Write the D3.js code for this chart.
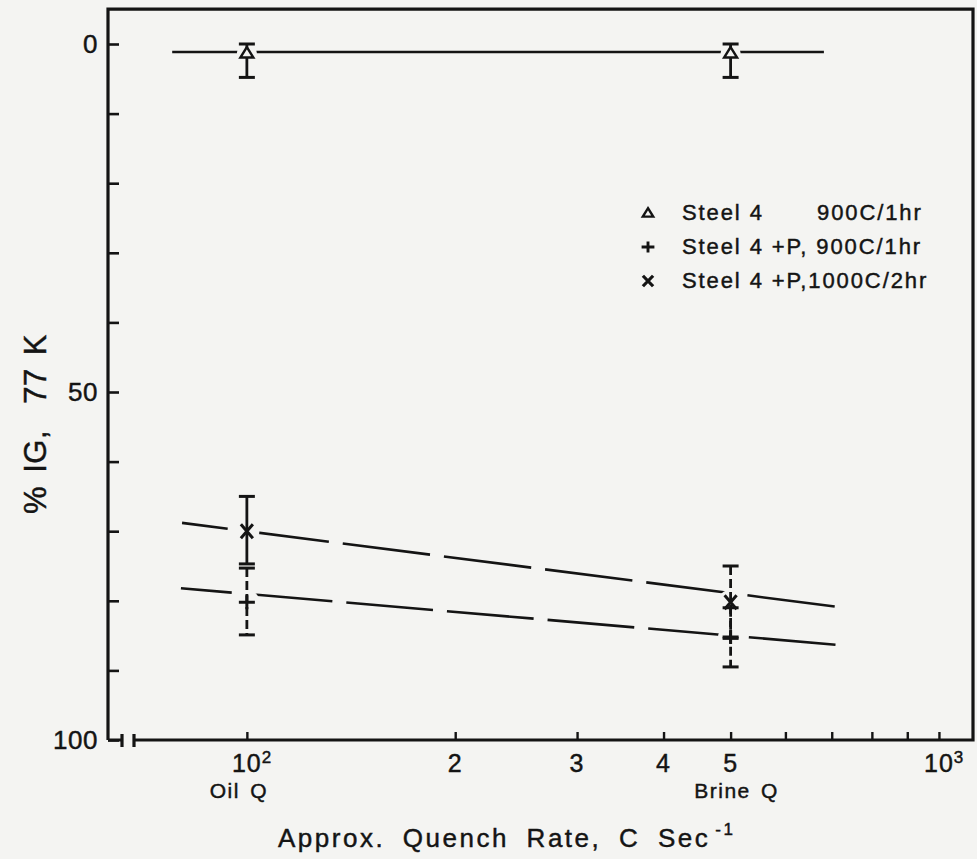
<!DOCTYPE html>
<html>
<head>
<meta charset="utf-8">
<script src="https://cdn.jsdelivr.net/npm/d3@7"></script>
<style>
  body { margin: 0; background: #f4f4f2; }
  svg  { display: block; font-family: "Liberation Sans", Arial, Helvetica, sans-serif; }
  svg text { stroke: #141414; stroke-width: 0.45px; }
</style>
</head>
<body>
<svg id="chart"></svg>
<script>
// ─── data ────────────────────────────────────────────────────────────────────
// quench rates (C/sec) of the two treatments
const rates       = [100, 500];
const rateNames   = ["Oil Q", "Brine Q"];

// % intergranular fracture at 77 K, and error-bar ends [upper, lower]
const steel4         = [1.3, 1.3];
const steel4Err      = [[0, 4.8], [0, 4.8]];
const steel4P900     = [80.2, 85.2];
const steel4P900Err  = [[75.3, 84.9], [81, 89.5]];
const steel4P1000    = [70.0, 80.2];
const steel4P1000Err = [[65, 74.7], [75, 85.4]];

// fitted trend lines, end points as [rate, %IG]
const steel4Trend = [[78, 1.15], [682, 1.15]];
const p900Trend   = [[80.3, 78.2], [727, 86.4]];
const p1000Trend  = [[80.6, 68.8], [717, 80.9]];

// axes
const yTicks      = [0, 10, 20, 30, 40, 50, 60, 70, 80, 90, 100];
const yLabels     = [0, 50, 100];
const xTicks      = [100, 200, 300, 400, 500, 600, 700, 800, 900, 1000];
const xLabelVals  = [100, 200, 300, 400, 500, 1000];
const xLabelText  = ["10", "2", "3", "4", "5", "10"];
const xLabelSup   = ["2", "", "", "", "", "3"];

const legendMain  = ["Steel 4", "Steel 4 +P, 900C/1hr", "Steel 4 +P,1000C/2hr"];
const legendExtra = ["900C/1hr", "", ""];

// ─── drawing ────────────────────────────────────────────────────────────────
const W = 977, H = 859;
const bg = "#f4f4f2", ink = "#141414";

const svg = d3.select("#chart").attr("width", W).attr("height", H);
svg.append("rect").attr("width", W).attr("height", H).attr("fill", bg);

const x = d3.scaleLog().domain([63, 1120]).range([108, 973]);
const y = d3.scaleLinear().domain([0, 100]).range([44, 740]);
const xLeft = x.range()[0], xRight = x.range()[1];
const yTop = y(-5), yBottom = y(100);

// frame, with the broken-axis mark next to the origin
svg.append("path").attr("fill", "none").attr("stroke", ink).attr("stroke-width", 3.2)
  .attr("d", `M${xLeft},${yBottom}V${yTop}H${xRight}V${yBottom}H134`
           + `M134,${yBottom - 6}V${yBottom + 7}M122,${yBottom - 6}V${yBottom + 7}M122,${yBottom}H${xLeft}`);

// y axis: inward ticks every 10, labels at 0 / 50 / 100
svg.append("g").attr("transform", `translate(${xLeft},0)`)
  .call(d3.axisLeft(y).tickValues(yTicks).tickSize(-11).tickPadding(10).tickFormat(d => yLabels.includes(d) ? d : ""))
  .call(g => g.select(".domain").remove())
  .call(g => g.selectAll("line").attr("stroke", ink).attr("stroke-width", 2.6))
  .call(g => g.selectAll("text").attr("fill", ink).style("letter-spacing", "0.5px"))
  .attr("font-size", 26).attr("font-family", null);

// x axis: log ticks pointing up
svg.append("g").attr("transform", `translate(0,${yBottom})`)
  .call(d3.axisBottom(x).tickValues(xTicks).tickSize(-8).tickFormat(""))
  .call(g => g.select(".domain").remove())
  .call(g => g.selectAll("line").attr("stroke", ink).attr("stroke-width", 2.4));

const xl = svg.append("g").attr("fill", ink).style("letter-spacing", "1px");
xLabelVals.forEach((v, i) => {
  const t = xl.append("text").attr("x", x(v)).attr("y", 772).attr("font-size", 25)
    .attr("text-anchor", "middle").text(xLabelText[i]);
  if (xLabelSup[i]) {
    xl.append("text").attr("x", x(v) + t.node().getComputedTextLength() / 2)
      .attr("y", 763).attr("font-size", 17).text(xLabelSup[i]);
  }
});
xl.selectAll("text.rate-name").data(rates).join("text").attr("class", "rate-name")
  .attr("x", (d, i) => x(d) - (i ? -6 : 8)).attr("y", 798).attr("font-size", 21)
  .attr("text-anchor", "middle").style("letter-spacing", "1.5px").style("word-spacing", "3px")
  .text((d, i) => rateNames[i]);

// axis titles
const xt = svg.append("text").attr("x", 278).attr("y", 847).attr("fill", ink).attr("font-size", 26)
  .style("letter-spacing", "2.5px").style("word-spacing", "8px");
xt.append("tspan").text("Approx. Quench Rate, C Sec");
xt.append("tspan").attr("dx", 5).attr("dy", -12).attr("font-size", 17).text("-1");

svg.append("text").attr("transform", "translate(46,424) rotate(-90)").attr("text-anchor", "middle")
  .attr("fill", ink).attr("font-size", 31).style("letter-spacing", "0.5px").style("word-spacing", "4px")
  .style("white-space", "pre").text("% IG,  77 K");

// ─── series ─────────────────────────────────────────────────────────────────
const shapes = {
  tri:   "M0,-6L6.5,4.5L-6.5,4.5Z",
  plus:  "M-8,0H8M0,-7V7",
  cross: "M-6,-7L6,7M6,-7L-6,7"
};
const series = [
  { values: steel4,      err: steel4Err,      trend: steel4Trend, shape: "tri",   dash: null,    offset: 0  },
  { values: steel4P900,  err: steel4P900Err,  trend: p900Trend,   shape: "plus",  dash: "87,14", offset: 36 },
  { values: steel4P1000, err: steel4P1000Err, trend: p1000Trend,  shape: "cross", dash: "88,14", offset: 42 }
];
const points = series.flatMap(s => rates.map((r, i) => ({ r, i, v: s.values[i], e: s.err[i], s })));
// the scanned error bars are broken (dashed) except the oil-quench x bar and the triangles
const barDash = d => d.s.shape === "tri" || (d.s.shape === "cross" && d.i === 0) ? null : "9,4";

const line = d3.line().x(d => x(d[0])).y(d => y(d[1]));
svg.append("g").selectAll("path").data(series).join("path")
  .attr("fill", "none").attr("stroke", ink).attr("stroke-width", 2.6)
  .attr("stroke-dasharray", d => d.dash).attr("stroke-dashoffset", d => d.offset)
  .attr("d", d => line(d.trend));

// gaps in the lines around each marker
svg.append("g").selectAll("circle").data(points).join("circle")
  .attr("cx", d => x(d.r)).attr("cy", d => y(d.v)).attr("r", d => d.s.shape === "tri" ? 10 : 12.5)
  .attr("fill", bg);

// error bars
const eb = svg.append("g").attr("stroke", ink).attr("stroke-width", 2.8).attr("fill", "none");
eb.selectAll("path.bar").data(points).join("path").attr("class", "bar")
  .attr("stroke-dasharray", barDash)
  .attr("d", d => `M${x(d.r)},${y(d.e[0])}V${y(d.e[1])}`);
eb.selectAll("path.cap").data(points.flatMap(d => d.e.map(e => ({ r: d.r, e })))).join("path").attr("class", "cap")
  .attr("stroke-width", 3)
  .attr("d", d => `M${x(d.r) - 8},${y(d.e)}H${x(d.r) + 8}`);

// markers
svg.append("g").selectAll("path").data(points).join("path")
  .attr("transform", d => `translate(${x(d.r)},${y(d.v)})`)
  .attr("d", d => shapes[d.s.shape])
  .attr("fill", d => d.s.shape === "tri" ? bg : "none")
  .attr("stroke", ink).attr("stroke-width", d => d.s.shape === "tri" ? 2.4 : 3);

// ─── legend ─────────────────────────────────────────────────────────────────
const lg = svg.append("g").attr("transform", "translate(648,213)");
const rows = lg.selectAll("g").data(series).join("g").attr("transform", (d, i) => `translate(0,${i * 34})`);
rows.append("path").attr("d", d => shapes[d.shape])
  .attr("transform", d => d.shape === "cross" ? "scale(0.85,0.75)" : "scale(0.8)")
  .attr("fill", "none").attr("stroke", ink).attr("stroke-width", d => d.shape === "tri" ? 3 : 3.6);
rows.append("text").attr("x", 34).attr("y", 7).attr("fill", ink).attr("font-size", 22)
  .style("letter-spacing", "1.9px").text((d, i) => legendMain[i]);
rows.append("text").attr("x", 169).attr("y", 7).attr("fill", ink).attr("font-size", 22)
  .style("letter-spacing", "1.9px").text((d, i) => legendExtra[i]);
</script>
</body>
</html>
